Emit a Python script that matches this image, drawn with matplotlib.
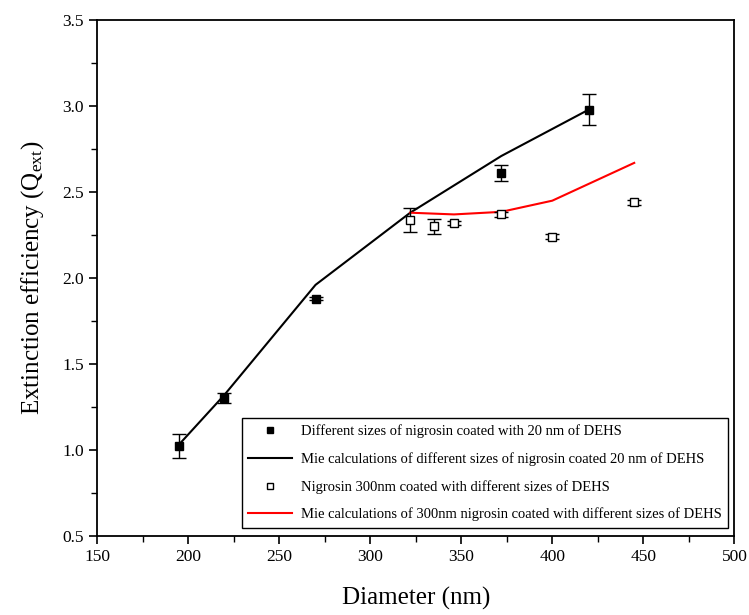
import matplotlib
matplotlib.use("Agg")
import matplotlib.pyplot as plt
from matplotlib.ticker import MultipleLocator, FormatStrFormatter
from matplotlib.lines import Line2D

plt.rcParams['font.family'] = ['Liberation Serif', 'DejaVu Serif']
plt.rcParams['mathtext.fontset'] = 'custom'
plt.rcParams['mathtext.rm'] = 'Liberation Serif'
plt.rcParams['mathtext.it'] = 'Liberation Serif'

# Measured: different sizes of nigrosin coated with 20 nm DEHS
d_filled = [195, 220, 270, 372, 420]
q_filled = [1.02, 1.30, 1.88, 2.61, 2.98]
e_filled = [0.07, 0.03, 0.01, 0.045, 0.09]

# Mie calc for those
d_mie1 = [195, 220, 270, 322, 372, 420]
q_mie1 = [1.03, 1.32, 1.96, 2.38, 2.71, 2.98]

# Measured: 300 nm nigrosin coated with different DEHS sizes
d_open = [322, 335, 346, 372, 400, 445]
q_open = [2.34, 2.30, 2.32, 2.37, 2.24, 2.44]
e_open = [0.07, 0.045, 0.012, 0.015, 0.015, 0.015]

# Mie calc for those
d_mie2 = [322, 346, 372, 400, 445]
q_mie2 = [2.38, 2.37, 2.385, 2.45, 2.67]

labels = ['Different sizes of nigrosin coated with 20 nm of DEHS',
          'Mie calculations of different sizes of nigrosin coated 20 nm of DEHS',
          'Nigrosin 300nm coated with different sizes of DEHS',
          'Mie calculations of 300nm nigrosin coated with different sizes of DEHS']

fig = plt.figure(figsize=(7.49, 6.15), dpi=100)
ax = fig.add_axes([0.1295, 0.129, 0.851, 0.838])

ax.errorbar(d_filled, q_filled, yerr=e_filled, fmt='s', color='black', ms=6,
            capsize=5, elinewidth=1, capthick=1, zorder=3)
ax.plot(d_mie1, q_mie1, '-', color='black', lw=1.5, zorder=2)
ax.errorbar(d_open, q_open, yerr=e_open, fmt='s', mfc='white', mec='black', color='black',
            ms=6, capsize=5, elinewidth=1, capthick=1, zorder=3)
ax.plot(d_mie2, q_mie2, '-', color='red', lw=1.5, zorder=2)

handles = [Line2D([], [], ls='none', marker='s', color='black', ms=5),
           Line2D([], [], ls='-', color='black', lw=1.5),
           Line2D([], [], ls='none', marker='s', mfc='white', mec='black', ms=5),
           Line2D([], [], ls='-', color='red', lw=1.5)]

ax.set_xlim(150, 500)
ax.set_ylim(0.5, 3.5)
ax.xaxis.set_major_locator(MultipleLocator(50))
ax.xaxis.set_minor_locator(MultipleLocator(25))
ax.yaxis.set_major_locator(MultipleLocator(0.5))
ax.yaxis.set_minor_locator(MultipleLocator(0.25))
ax.yaxis.set_major_formatter(FormatStrFormatter('%.1f'))
ax.tick_params(which='major', direction='out', length=6, width=1.2, labelsize=12.5,
               top=False, right=False)
ax.tick_params(which='minor', direction='out', length=4, width=1.0, top=False, right=False)
for s in ax.spines.values():
    s.set_linewidth(1.3)

ax.set_xlabel('Diameter (nm)', fontsize=18, labelpad=16)
ax.set_ylabel('Extinction efficiency (Q$_{\\rm ext}$)', fontsize=18, labelpad=12)

leg = ax.legend(handles, labels, loc='lower right', bbox_to_anchor=(0.99, 0.015),
                fontsize=10.5, frameon=True, fancybox=False, edgecolor='black',
                framealpha=1, handlelength=3.0, handletextpad=0.6,
                borderpad=0.45, labelspacing=0.95, borderaxespad=0)
leg.get_frame().set_linewidth(1.0)

fig.savefig('out.png', dpi=100)
